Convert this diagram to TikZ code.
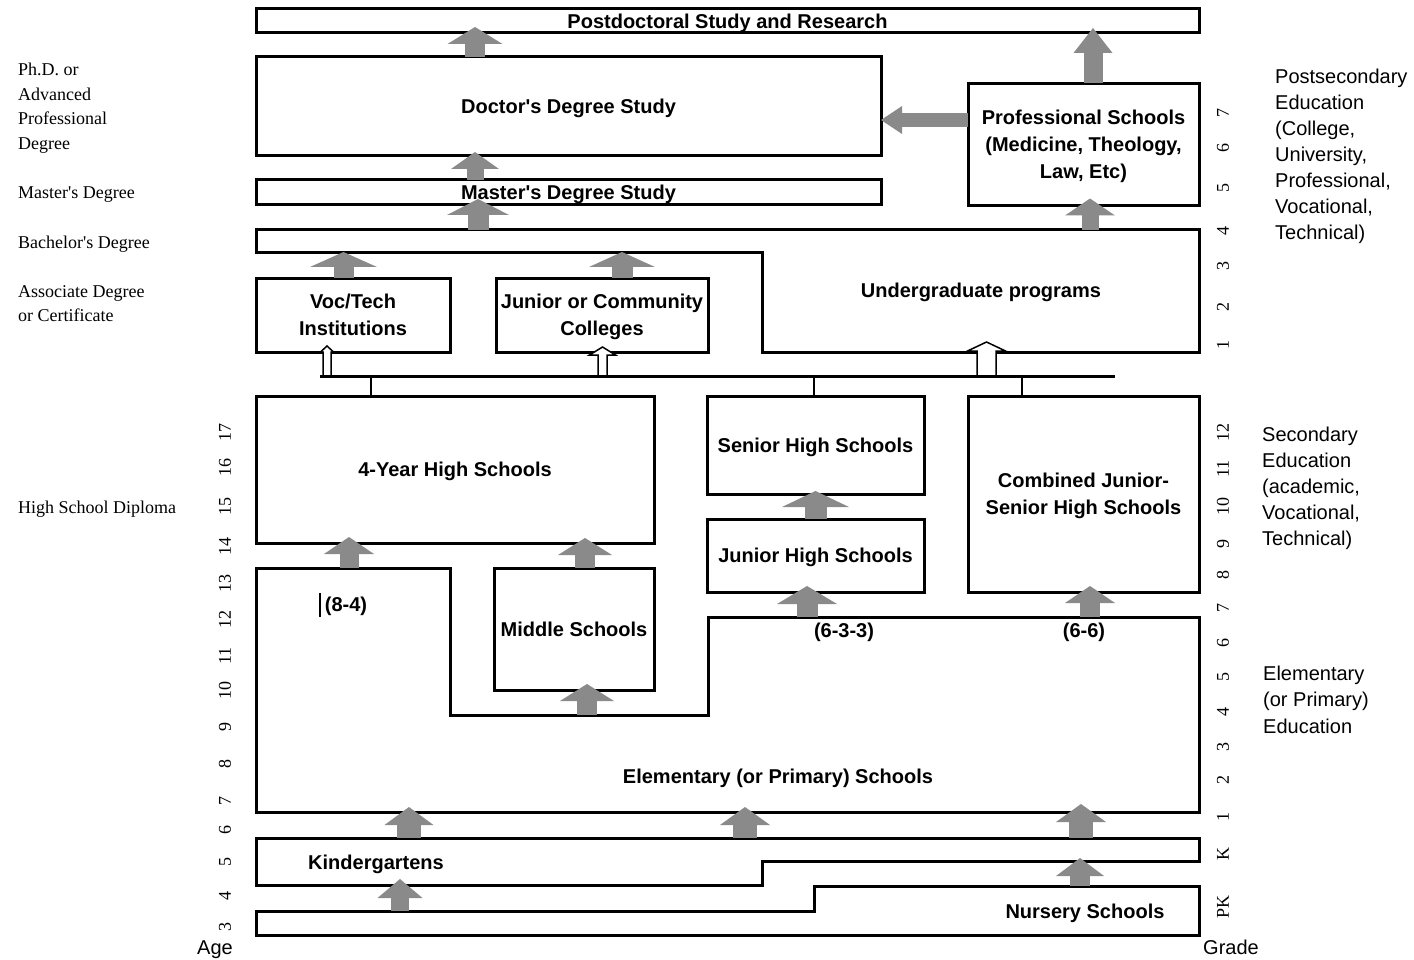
\documentclass[tikz,border=0pt]{standalone}
\usepackage{fontspec}
\setmainfont{Liberation Serif}
\setsansfont{Liberation Sans}
\usetikzlibrary{arrows.meta,calc}
\definecolor{arrgray}{RGB}{138,138,138}
\newcommand\ap{\textquotesingle}
\newcommand\tallstrut{\rule{0pt}{18.5pt}}

% hollow upward arrow: #1 base coordinate, #2 shaft width, #3 head width, #4 length, #5 head length
\newcommand\hollowup[5]{%
  \draw[wharr] ($(#1)+({-#2/2},0)$) -- ++(0,{-(#4-#5)}) -- ++({-(#3-#2)/2},0)
    -- ++({#3/2},{-#5}) -- ++({#3/2},{#5}) -- ++({-(#3-#2)/2},0) -- ++(0,{#4-#5}) -- cycle;}

\begin{document}
\begin{tikzpicture}[x=1pt,y=-1pt,
  box/.style={draw, line width=3pt, outer sep=0pt, inner sep=0pt,
    font=\sffamily\bfseries\fontsize{20}{27}\selectfont, align=center},
  one/.style={text height=16pt, text depth=1.6pt},
  lbl/.style={inner sep=0pt, font=\sffamily\bfseries\fontsize{20}{27}\selectfont,
    text height=16pt, text depth=1.6pt},
  wall/.style={draw, line width=3pt, line join=miter},
  garr/.style n args={3}{draw=arrgray, line width=#1,
    -{Triangle[width=#2, length=#3, line width=0pt]}},
  wharr/.style={draw, fill=white, line width=1.5pt, line join=miter},
  side/.style={inner sep=0pt, anchor=base west, font=\fontsize{18}{18}\selectfont},
  note/.style={inner sep=0pt, anchor=base west, font=\sffamily\fontsize{20}{20}\selectfont},
  num/.style={inner sep=0pt, rotate=90, font=\fontsize{18}{18}\selectfont},
]
\useasboundingbox (0,0) rectangle (1414,960);

% ---------- postsecondary ----------
\node[box, one, minimum width=943pt, minimum height=24pt] (postdoc) at (727.5,21) {Postdoctoral Study and Research};
\node[box, one, minimum width=625pt, minimum height=99pt] (doctor) at (568.5,106.5) {Doctor\ap s Degree Study};
\node[box, one, minimum width=625pt, minimum height=25pt] (master) at (568.5,192.5) {Master\ap s Degree Study};
\node[box, minimum width=231pt, minimum height=122pt] (prof) at (1083.5,144.5) {\tallstrut Professional Schools\\(Medicine, Theology,\\Law, Etc)};

% undergraduate block (L-shaped)
\draw[wall] (256,230) -- (1199,230) -- (1199,352) -- (762,352) -- (762,253) -- (256,253) -- cycle;
\coordinate (ugT) at (256,230);
\coordinate (ugL) at (256,253);
\node[lbl] (ug) at (981,290) {Undergraduate programs};

\node[box, minimum width=194pt, minimum height=74pt] (voc) at (353,315) {Voc/Tech\\Institutions};
\node[box, minimum width=212pt, minimum height=74pt] (jcc) at (602,315) {\tallstrut Junior or Community\\Colleges};

% ---------- secondary ----------
\node[box, one, minimum width=398pt, minimum height=147pt] (four) at (455,469.5) {4-Year High Schools};
\node[box, one, minimum width=217pt, minimum height=98pt] (senior) at (815.5,445) {Senior High Schools};
\node[box, one, minimum width=217pt, minimum height=73pt] (junior) at (815.5,555.5) {Junior High Schools};
\node[box, minimum width=231pt, minimum height=196pt] (combined) at (1083.5,494) {\tallstrut Combined Junior-\\Senior High Schools};
\node[box, one, minimum width=160pt, minimum height=122pt] (middle) at (574,629) {Middle Schools};

% ---------- elementary ----------
\draw[wall] (256,568) -- (450,568) -- (450,715) -- (708,715) -- (708,617) -- (1199,617)
  -- (1199,812) -- (256,812) -- cycle;
\coordinate (elT) at (256,568);
\coordinate (elM) at (450,715);
\coordinate (elR) at (708,617);
\coordinate (elB) at (256,812);
\node[lbl] (elem) at (778,776) {Elementary (or Primary) Schools};
\node[lbl] (p84) at (346,604) {(8-4)};
\draw[line width=1.6pt] (320,593) -- (320,617);
\node[lbl] (p633) at (844,630) {(6-3-3)};
\node[lbl] (p66) at (1084,630) {(6-6)};

% ---------- pre-primary ----------
\draw[wall] (256,838) -- (1199,838) -- (1199,861) -- (762,861) -- (762,885) -- (256,885) -- cycle;
\coordinate (kT) at (256,838);
\coordinate (kB) at (256,885);
\coordinate (kR) at (1199,861);
\node[lbl] (kinder) at (376,862) {Kindergartens};
\draw[wall] (256,911) -- (814,911) -- (814,886) -- (1199,886) -- (1199,935) -- (256,935) -- cycle;
\coordinate (nL) at (256,911);
\coordinate (nR) at (1199,886);
\node[lbl] (nursery) at (1085,911) {Nursery Schools};

% ---------- gray transfer arrows ----------
\draw[garr={20pt}{55pt}{17pt}, shorten >=-6pt] (475,0 |- doctor.north) -- (475,0 |- postdoc.south);
\draw[garr={17pt}{48pt}{17pt}, shorten >=-4pt] (475,0 |- master.north) -- (475,0 |- doctor.south);
\draw[garr={21pt}{62pt}{16pt}, shorten >=-6pt] (478,0 |- ugT) -- (478,0 |- master.south);
\draw[garr={19pt}{39pt}{25pt}, shorten >=-5pt] (1093,0 |- prof.north) -- (1093,0 |- postdoc.south);
\draw[garr={14pt}{28pt}{21pt}] (prof.west |- 0,120) -- (doctor.east |- 0,120);
\draw[garr={17pt}{50pt}{17pt}, shorten >=-7pt] (1090,0 |- ugT) -- (1090,0 |- prof.south);
\draw[garr={20pt}{67pt}{15pt}, shorten >=-1pt] (343.5,0 |- voc.north) -- (343.5,0 |- ugL);
\draw[garr={21pt}{66pt}{15pt}, shorten >=-1pt] (622,0 |- jcc.north) -- (622,0 |- ugL);
\draw[garr={19pt}{50pt}{17pt}, shorten >=-6pt] (349,0 |- elT) -- (349,0 |- four.south);
\draw[garr={20pt}{54pt}{17pt}, shorten >=-5pt] (585,0 |- middle.north) -- (585,0 |- four.south);
\draw[garr={20pt}{54pt}{17pt}, shorten >=-6pt] (587,0 |- elM) -- (587,0 |- middle.south);
\draw[garr={22pt}{67pt}{16pt}, shorten >=-3pt] (815.5,0 |- junior.north) -- (815.5,0 |- senior.south);
\draw[garr={21pt}{60pt}{18pt}, shorten >=-6pt] (807,0 |- elR) -- (807,0 |- junior.south);
\draw[garr={20pt}{50pt}{17pt}, shorten >=-6pt] (1090,0 |- elR) -- (1090,0 |- combined.south);
\draw[garr={24pt}{49pt}{18pt}, shorten >=-5pt] (409,0 |- kT) -- (409,0 |- elB);
\draw[garr={24pt}{50pt}{18pt}, shorten >=-5pt] (745,0 |- kT) -- (745,0 |- elB);
\draw[garr={24pt}{50pt}{18pt}, shorten >=-8pt] (1081,0 |- kT) -- (1081,0 |- elB);
\draw[garr={18pt}{45pt}{19pt}, shorten >=-6pt] (400,0 |- nL) -- (400,0 |- kB);
\draw[garr={20pt}{48pt}{18pt}, shorten >=-3pt] (1080,0 |- nR) -- (1080,0 |- kR);

% ---------- hub from secondary to postsecondary ----------
\coordinate (hubL) at (320,376);
\coordinate (hubR) at (1115,376);
\coordinate (wa1) at (327,0 |- hubL);
\coordinate (wa2) at (602.5,0 |- hubL);
\coordinate (wa3) at (986.5,0 |- hubL);
\hollowup{wa1}{8}{13}{30}{6}
\hollowup{wa2}{9}{26}{29}{8}
\hollowup{wa3}{19}{38}{34}{9}
\draw[line width=3pt] (hubL) -- (hubR);
\draw[line width=2.5pt] (371,0 |- four.north) -- (371,0 |- hubL);
\draw[line width=2.5pt] (814,0 |- senior.north) -- (814,0 |- hubL);
\draw[line width=2.5pt] (1022,0 |- combined.north) -- (1022,0 |- hubL);

% ---------- degree labels (left) ----------
\node[side] (d1) at (18,76) {Ph.D. or};
\node[side] (d2) at (18,101) {Advanced};
\node[side] (d3) at (18,125) {Professional};
\node[side] (d4) at (18,150) {Degree};
\node[side] (d5) at (18,199) {Master\ap s Degree};
\node[side] (d6) at (18,248) {Bachelor\ap s Degree};
\node[side] (d7) at (18,297) {Associate Degree};
\node[side] (d8) at (18,321) {or Certificate};
\node[side] (d9) at (18,513) {High School Diploma};

% ---------- level labels (right) ----------
\foreach \t [count=\i] in {Postsecondary, Education, {(College,}, {University,}, {Professional,}, {Vocational,}, {Technical)}}
  \node[note] (ps\i) at (1275,{84+26*(\i-1)}) {\t};
\foreach \t [count=\i] in {Secondary, Education, {(academic,}, {Vocational,}, {Technical)}}
  \node[note] (se\i) at (1262,{441+26*(\i-1)}) {\t};
\foreach \t [count=\i] in {Elementary, {(or Primary)}, Education}
  \node[note] (el\i) at (1263,{680+26.5*(\i-1)}) {\t};

% ---------- age and grade scales ----------
\foreach \a/\yy in {3/927, 4/896, 5/862, 6/830, 7/801, 8/764, 9/727, 10/690, 11/656,
                    12/619, 13/583, 14/546, 15/506, 16/467, 17/432}
  \node[num] (age\a) at (225,\yy) {\a};
\foreach \g/\yy in {PK/907, K/854, 1/817, 2/780, 3/747, 4/712, 5/677, 6/643, 7/608,
                    8/575, 9/544, 10/506, 11/469, 12/432}
  \node[num] (gr\g) at (1223,\yy) {\g};
\foreach \g/\yy in {1/345, 2/307, 3/266, 4/231, 5/188, 6/148, 7/113}
  \node[num] (pg\g) at (1223,\yy) {\g};
\node[inner sep=0pt, anchor=base, font=\sffamily\fontsize{20}{20}\selectfont] (agecap) at (215,954) {Age};
\node[inner sep=0pt, anchor=base, font=\sffamily\fontsize{20}{20}\selectfont] (gradecap) at (1231,954) {Grade};
\end{tikzpicture}
\end{document}
